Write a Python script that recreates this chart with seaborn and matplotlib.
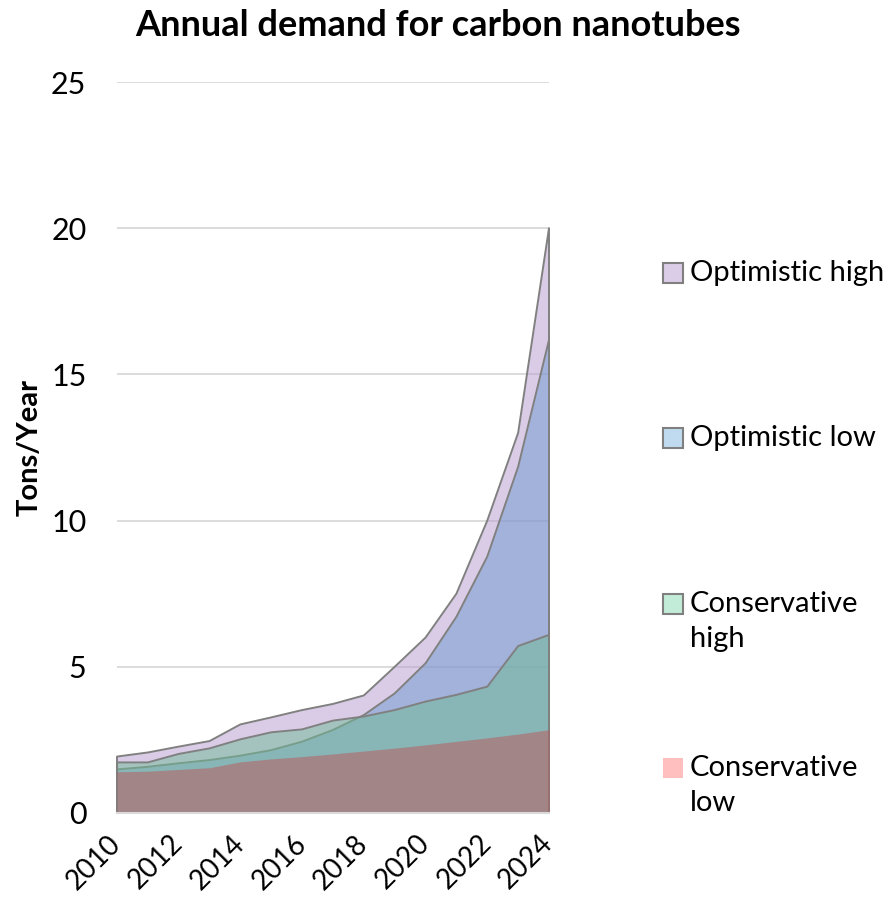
import matplotlib
matplotlib.use("Agg")
import matplotlib.pyplot as plt
from matplotlib.patches import Rectangle
import seaborn as sns
import pandas as pd

# Demand scenarios for carbon nanotubes, tons per year
years = list(range(2010, 2025))
optimistic_high = [1.93, 2.07, 2.27, 2.46, 3.03, 3.27, 3.52, 3.73, 4.02, 5.0, 6.0, 7.5, 10.0, 13.0, 20.0]
optimistic_low = [1.49, 1.58, 1.70, 1.81, 1.96, 2.15, 2.44, 2.84, 3.35, 4.09, 5.12, 6.71, 8.77, 11.84, 16.18]
conservative_high = [1.73, 1.73, 2.02, 2.21, 2.52, 2.76, 2.86, 3.16, 3.30, 3.52, 3.81, 4.04, 4.32, 5.71, 6.09]
conservative_low = [1.41, 1.43, 1.49, 1.55, 1.75, 1.85, 1.93, 2.02, 2.12, 2.22, 2.33, 2.45, 2.57, 2.70, 2.85]

series_names = ["Optimistic high", "Optimistic low", "Conservative high", "Conservative low"]
legend_labels = ["Optimistic high", "Optimistic low", "Conservative\nhigh", "Conservative\nlow"]
series_values = [optimistic_high, optimistic_low, conservative_high, conservative_low]
fill_colors = ["#B79BD1", "#6B99CE", "#6FBB96", "#BD5559"]
legend_colors = ["#DBCDE8", "#C0DBF0", "#C2ECD8", "#FFBFBF"]
edge_colors = ["#808080", "#808080", "#808080", None]
y_ticks = [0, 5, 10, 15, 20, 25]
x_ticks = list(range(2010, 2025, 2))

sns.set_theme(style="white")
plt.rcParams["font.family"] = ["Lato", "DejaVu Sans"]
plt.rcParams["text.color"] = "black"
plt.rcParams["xtick.color"] = "black"
plt.rcParams["ytick.color"] = "black"

fig = plt.figure(figsize=(8.91, 9.0), dpi=100)
ax = fig.add_axes([117 / 891, 1 - 813 / 900, (549 - 117) / 891, (813 - 82) / 900])

# Overlapping translucent areas, each with its outline drawn just above its own fill
z = 2.0
for name, vals, fc, ec in zip(series_names, series_values, fill_colors, edge_colors):
    ax.fill_between(years, 0, vals, facecolor=fc, alpha=0.5, linewidth=0, zorder=z)
    if ec is not None:
        outline = pd.DataFrame({
            "x": [years[0]] + years + [years[-1]],
            "y": [0] + vals + [0],
        })
        sns.lineplot(data=outline, x="x", y="y", ax=ax, color=ec, linewidth=1.4,
                     estimator=None, sort=False, zorder=z + 0.1, clip_on=False)
    z += 0.2

ax.set_xlim(years[0], years[-1])
ax.set_ylim(0, 25)
ax.set_yticks(y_ticks)
ax.set_yticklabels([str(t) for t in y_ticks], fontsize=22)
ax.set_xticks(x_ticks)
ax.set_xticklabels([str(t) for t in x_ticks], fontsize=20, rotation=45,
                   ha="right", va="center", rotation_mode="anchor")
ax.tick_params(axis="x", length=0, pad=19, colors="black")
ax.tick_params(axis="y", length=0, pad=22, colors="black")
ax.set_xlabel("")
ax.set_ylabel("")

ax.grid(axis="y", color="#D9D9D9", linewidth=1.3, zorder=0)
ax.set_axisbelow(True)
for side in ["left", "right", "top"]:
    ax.spines[side].set_visible(False)
ax.spines["bottom"].set_color("#D9D9D9")
ax.spines["bottom"].set_linewidth(1.5)
ax.spines["bottom"].set_zorder(10)

fig.text(30 / 891, 1 - 448 / 900, "Tons/Year", fontsize=21, fontweight="bold",
         rotation=90, ha="center", va="center", color="black")
fig.text(438 / 891, 1 - 25 / 900, "Annual demand for carbon nanotubes",
         fontsize=26, fontweight="bold", ha="center", va="center", color="black")

# Legend entries laid out in a column to the right of the plot
legend_y = [273, 438, 604, 768]
for lab, col, ec, yp in zip(legend_labels, legend_colors, edge_colors, legend_y):
    fig.add_artist(Rectangle((663 / 891, 1 - (yp + 10) / 900), 20 / 891, 20 / 900,
                             transform=fig.transFigure, facecolor=col,
                             edgecolor=ec if ec else "none", linewidth=1.5 if ec else 0))
    fig.text(690 / 891, 1 - (yp - 13) / 900, lab, fontsize=21, ha="left", va="top",
             linespacing=1.45, color="black")

fig.savefig("out.png", dpi=100)
